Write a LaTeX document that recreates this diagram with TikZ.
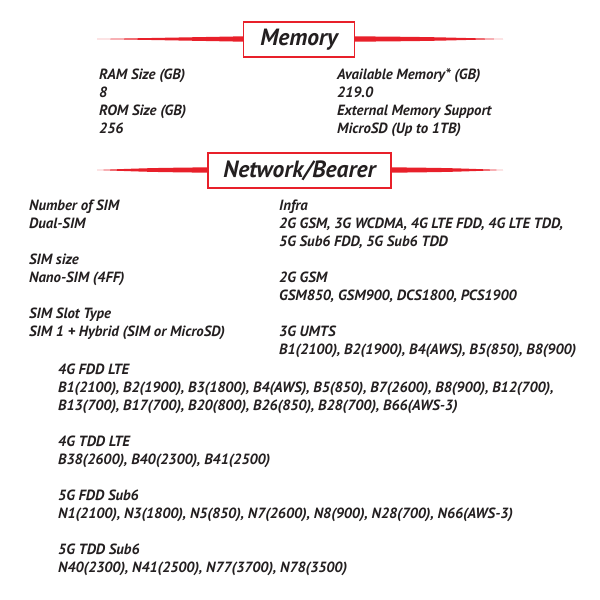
\documentclass[tikz,border=0pt]{standalone}
\usepackage{fontspec}
\setmainfont{PT Sans}
\definecolor{txt}{HTML}{231F20}
\definecolor{rd}{HTML}{E8202A}
\tikzset{
  lbl/.style={anchor=base west, inner sep=0pt, text=txt, font=\fontsize{14.8}{16}\selectfont\bfseries\itshape},
  hdr/.style={draw=rd, line width=1.3pt, fill=white, text=txt, inner sep=0pt, font=\fontsize{23.5}{26}\selectfont\bfseries\itshape},
  bar/.style={fill=rd, draw=none}
}
\begin{document}
\begin{tikzpicture}[x=1pt,y=-1pt]
\useasboundingbox (0,0) rectangle (600,600);
% Memory header
\fill[bar] (97,39) .. controls (170,37) .. (244,36.3) -- (244,41.7) .. controls (170,41) .. (97,39) -- cycle;
\fill[bar] (503,39) .. controls (430,37) .. (354,36.3) -- (354,41.7) .. controls (430,41) .. (503,39) -- cycle;
\node[hdr, minimum width=111pt, minimum height=35pt] (mem) at (299,39.5) {Memory};
% Memory text
\node[lbl] (ram) at (99,79) {RAM Size (GB)};
\node[lbl] (ramv) at (99,97) {8};
\node[lbl] (rom) at (99,115) {ROM Size (GB)};
\node[lbl] (romv) at (99,133) {256};
\node[lbl] (avail) at (337,79) {Available Memory* (GB)};
\node[lbl] (availv) at (337,97) {219.0};
\node[lbl] (ext) at (337,115) {External Memory Support};
\node[lbl] (extv) at (337,133) {MicroSD (Up to 1TB)};
% Network header
\fill[bar] (97,170) .. controls (150,168) .. (209,167.3) -- (209,172.7) .. controls (150,172) .. (97,170) -- cycle;
\fill[bar] (503,170) .. controls (450,168) .. (390,167.3) -- (390,172.7) .. controls (450,172) .. (503,170) -- cycle;
\node[hdr, minimum width=183pt, minimum height=35pt] (net) at (299.5,170.5) {Network/Bearer};
% Left column
\node[lbl] (nsim) at (29,210) {Number of SIM};
\node[lbl] (nsimv) at (29,228) {Dual-SIM};
\node[lbl] (ssize) at (29,264) {SIM size};
\node[lbl] (ssizev) at (29,282) {Nano-SIM (4FF)};
\node[lbl] (slot) at (29,318) {SIM Slot Type};
\node[lbl] (slotv) at (29,336) {SIM 1 + Hybrid (SIM or MicroSD)};
% Right column
\node[lbl] (infra) at (279,210) {Infra};
\node[lbl] (infra1) at (279,228) {2G GSM, 3G WCDMA, 4G LTE FDD, 4G LTE TDD,};
\node[lbl] (infra2) at (279,246) {5G Sub6 FDD, 5G Sub6 TDD};
\node[lbl] (gsm) at (279,282) {2G GSM};
\node[lbl] (gsmv) at (279,300) {GSM850, GSM900, DCS1800, PCS1900};
\node[lbl] (umts) at (279,336) {3G UMTS};
\node[lbl] (umtsv) at (279,354) {B1(2100), B2(1900), B4(AWS), B5(850), B8(900)};
% Bottom block
\node[lbl] (fdd) at (58,374) {4G FDD LTE};
\node[lbl] (fdd1) at (58,392) {B1(2100), B2(1900), B3(1800), B4(AWS), B5(850), B7(2600), B8(900), B12(700),};
\node[lbl] (fdd2) at (58,410) {B13(700), B17(700), B20(800), B26(850), B28(700), B66(AWS-3)};
\node[lbl] (tdd) at (58,446) {4G TDD LTE};
\node[lbl] (tdd1) at (58,464) {B38(2600), B40(2300), B41(2500)};
\node[lbl] (nfdd) at (58,500) {5G FDD Sub6};
\node[lbl] (nfdd1) at (58,518) {N1(2100), N3(1800), N5(850), N7(2600), N8(900), N28(700), N66(AWS-3)};
\node[lbl] (ntdd) at (58,554) {5G TDD Sub6};
\node[lbl] (ntdd1) at (58,572) {N40(2300), N41(2500), N77(3700), N78(3500)};
\end{tikzpicture}
\end{document}
